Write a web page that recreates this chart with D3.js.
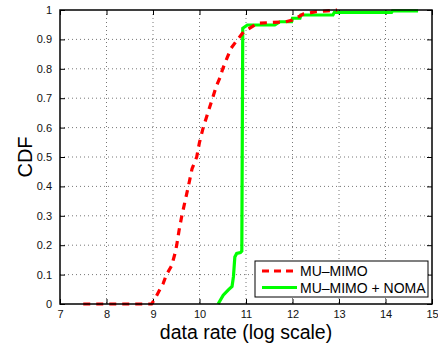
<!DOCTYPE html>
<html>
<head>
<meta charset="utf-8">
<script src="https://cdn.jsdelivr.net/npm/d3@7"></script>
<style>
  body { margin: 0; background: #fff; }
  text { font-family: "Liberation Sans", Arial, sans-serif; }
</style>
</head>
<body>
<svg id="chart" width="438" height="346"></svg>
<script>
"use strict";

// MU-MIMO curve (data rate, CDF)
const muRate = [7.5, 8.97, 9.05, 9.15, 9.22, 9.29, 9.40, 9.47, 9.51, 9.56, 9.62, 9.69, 9.76, 9.84, 9.94, 10.0, 10.08, 10.18, 10.28, 10.36, 10.44, 10.5, 10.6, 10.68, 10.82, 10.92, 11.05, 11.15, 11.25, 11.5, 11.85, 12.0, 12.23, 12.5, 12.75, 12.96];
const muCdf  = [0, 0, 0.02, 0.05, 0.07, 0.10, 0.13, 0.17, 0.2, 0.25, 0.3, 0.35, 0.4, 0.46, 0.5, 0.55, 0.6, 0.65, 0.7, 0.74, 0.77, 0.8, 0.84, 0.87, 0.9, 0.92, 0.935, 0.945, 0.955, 0.957, 0.96, 0.966, 0.986, 0.994, 0.997, 1.0];

// MU-MIMO + NOMA curve
const nomaRate = [10.40, 10.51, 10.62, 10.70, 10.73, 10.76, 10.80, 10.88, 10.91, 10.93, 11.03, 11.62, 11.73, 11.98, 12.0, 12.16, 12.18, 12.87, 12.9, 14.13, 14.15, 14.7];
const nomaCdf  = [0, 0.03, 0.048, 0.06, 0.093, 0.16, 0.172, 0.175, 0.18, 0.938, 0.949, 0.949, 0.96, 0.96, 0.972, 0.972, 0.983, 0.983, 0.992, 0.992, 0.997, 0.997];

const xTicks = [7, 8, 9, 10, 11, 12, 13, 14, 15];
const yTicks = [0, 0.1, 0.2, 0.3, 0.4, 0.5, 0.6, 0.7, 0.8, 0.9, 1];
const seriesNames = ["MU\u2013MIMO", "MU\u2013MIMO + NOMA"];

const margin = { left: 60, top: 10, right: 6, bottom: 42 };
const width = 438 - margin.left - margin.right;
const height = 346 - margin.top - margin.bottom;

const svg = d3.select("#chart");
const chart = svg.append("g")
  .attr("transform", `translate(${margin.left}, ${margin.top})`);

const xScale = d3.scaleLinear().domain([7, 15]).range([0, width]);
const yScale = d3.scaleLinear().domain([0, 1]).range([height, 0]);

// dotted grid
chart.append("g")
  .selectAll("line")
  .data(xTicks.slice(1, -1))
  .enter().append("line")
  .attr("x1", d => xScale(d)).attr("x2", d => xScale(d))
  .attr("y1", 0).attr("y2", height)
  .attr("stroke", "#777").attr("stroke-width", 1)
  .attr("stroke-dasharray", "1,3");
chart.append("g")
  .selectAll("line")
  .data(yTicks.slice(1, -1))
  .enter().append("line")
  .attr("y1", d => yScale(d)).attr("y2", d => yScale(d))
  .attr("x1", 0).attr("x2", width)
  .attr("stroke", "#777").attr("stroke-width", 1)
  .attr("stroke-dasharray", "1,3");

// axes, MATLAB style ticks pointing inwards
function styleAxis(g) {
  g.select(".domain").remove();
  g.selectAll(".tick line").attr("stroke", "#000");
  g.selectAll(".tick text")
    .attr("fill", "#111")
    .style("font-size", "11px")
    .style("font-family", "'Liberation Sans', Arial, sans-serif");
}

chart.append("g")
  .attr("transform", `translate(0, ${height})`)
  .call(d3.axisBottom(xScale).tickValues(xTicks).tickSize(-5).tickPadding(6).tickFormat(d3.format("d")))
  .call(styleAxis);
chart.append("g")
  .call(d3.axisTop(xScale).tickValues(xTicks).tickSize(-5).tickFormat(""))
  .call(styleAxis);
chart.append("g")
  .call(d3.axisLeft(yScale).tickValues(yTicks).tickSize(-5).tickPadding(8).tickFormat(d => d === 0 || d === 1 ? d : d3.format(".1f")(d)))
  .call(styleAxis);
chart.append("g")
  .attr("transform", `translate(${width}, 0)`)
  .call(d3.axisRight(yScale).tickValues(yTicks).tickSize(-5).tickFormat(""))
  .call(styleAxis);

// curves
const line = d3.line()
  .x(d => xScale(d[0]))
  .y(d => yScale(d[1]));

chart.append("path")
  .datum(nomaRate.map((r, i) => [r, nomaCdf[i]]))
  .attr("d", line)
  .attr("fill", "none")
  .attr("stroke", "#00ff00")
  .attr("stroke-width", 3.2);

chart.append("path")
  .datum(muRate.map((r, i) => [r, muCdf[i]]))
  .attr("d", line)
  .attr("fill", "none")
  .attr("stroke", "#ff0000")
  .attr("stroke-width", 3.2)
  .attr("stroke-dasharray", "7,6");

// plot box
chart.append("rect")
  .attr("x", 0).attr("y", 0)
  .attr("width", width).attr("height", height)
  .attr("fill", "none")
  .attr("stroke", "#000")
  .attr("stroke-width", 1.5);

// axis labels
svg.append("text")
  .attr("x", margin.left + width / 2)
  .attr("y", 339)
  .attr("text-anchor", "middle")
  .style("font-size", "19.5px")
  .text("data rate (log scale)");

svg.append("text")
  .attr("transform", `translate(32, ${margin.top + height / 2}) rotate(-90)`)
  .attr("text-anchor", "middle")
  .style("font-size", "20px")
  .text("CDF");

// legend
const legend = svg.append("g").attr("transform", "translate(255, 261)");
legend.append("rect")
  .attr("width", 173).attr("height", 36)
  .attr("fill", "#fff").attr("stroke", "#000").attr("stroke-width", 1);

const legendColors = ["#ff0000", "#00ff00"];
const legendDash = ["7,5", null];
seriesNames.forEach((name, i) => {
  const y = 10 + i * 16.5;
  legend.append("line")
    .attr("x1", 7).attr("x2", 42)
    .attr("y1", y).attr("y2", y)
    .attr("stroke", legendColors[i])
    .attr("stroke-width", 3.2)
    .attr("stroke-dasharray", legendDash[i]);
  legend.append("text")
    .attr("x", 45).attr("y", y + 5)
    .style("font-size", "14px")
    .text(name);
});
</script>
</body>
</html>
